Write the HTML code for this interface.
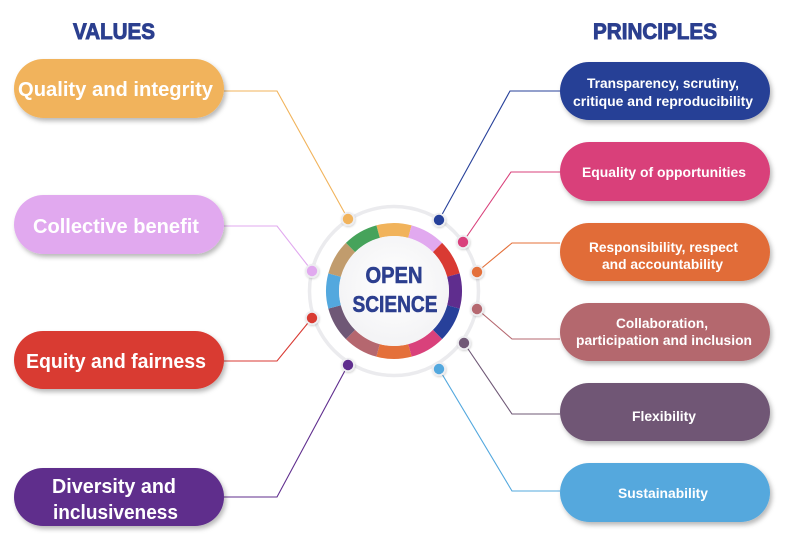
<!DOCTYPE html>
<html><head><meta charset="utf-8"><style>
html,body{margin:0;padding:0;background:#fff;}
svg{display:block;}
text{font-family:"Liberation Sans",sans-serif;font-weight:bold;}
</style></head><body>
<svg width="800" height="551" viewBox="0 0 800 551" xmlns="http://www.w3.org/2000/svg">
<defs>
<filter id="sh" x="-10%" y="-20%" width="125%" height="160%">
<feDropShadow dx="2" dy="3" stdDeviation="2.5" flood-color="#000" flood-opacity="0.28"/>
</filter>
<filter id="ds" x="-50%" y="-50%" width="200%" height="200%">
<feDropShadow dx="0.5" dy="1" stdDeviation="1" flood-color="#000" flood-opacity="0.18"/>
</filter>
<radialGradient id="cg" cx="50%" cy="45%" r="55%">
<stop offset="0" stop-color="#ffffff"/><stop offset="1" stop-color="#f3f3f5"/>
</radialGradient>
</defs>

<!-- titles -->
<text x="114" y="39" fill="#2b3f8f" stroke="#2b3f8f" stroke-width="0.9" font-size="22" text-anchor="middle" textLength="82" lengthAdjust="spacingAndGlyphs">VALUES</text>
<text x="655" y="39" fill="#2b3f8f" stroke="#2b3f8f" stroke-width="0.9" font-size="22" text-anchor="middle" textLength="124" lengthAdjust="spacingAndGlyphs">PRINCIPLES</text>

<!-- connectors -->
<g fill="none" stroke-width="1.1">
<polyline points="224,91 277,91 348,219" stroke="#f1b35b"/>
<polyline points="224,226 277,226 312,271" stroke="#e1a9ef"/>
<polyline points="224,361 277,361 312,318" stroke="#d93a33"/>
<polyline points="224,497 277,497 348,365" stroke="#5f2d8e"/>
<polyline points="560,91 510,91 439,220" stroke="#27409a"/>
<polyline points="560,172 511,172 463,242" stroke="#d9417b"/>
<polyline points="560,243 512,243 477,272" stroke="#e4703a"/>
<polyline points="560,339 512,339 477,309" stroke="#b5676f"/>
<polyline points="560,414 512,414 464,343" stroke="#6f5876"/>
<polyline points="560,491 512,491 439,369" stroke="#53a8de"/>
</g>

<!-- center -->
<circle cx="394" cy="291" r="84.5" fill="#fff" stroke="#ebebee" stroke-width="3.5"/>
<g fill="none" stroke-width="13">
<path d="M378.08,231.60 A61.5,61.5 0 0 1 409.92,231.60" stroke="#f1b35b"/>
<path d="M409.92,231.60 A61.5,61.5 0 0 1 437.49,247.51" stroke="#e1a9ef"/>
<path d="M437.49,247.51 A61.5,61.5 0 0 1 453.40,275.08" stroke="#d93a33"/>
<path d="M453.40,275.08 A61.5,61.5 0 0 1 453.40,306.92" stroke="#5f2d8e"/>
<path d="M453.40,306.92 A61.5,61.5 0 0 1 437.49,334.49" stroke="#27409a"/>
<path d="M437.49,334.49 A61.5,61.5 0 0 1 409.92,350.40" stroke="#d9417b"/>
<path d="M409.92,350.40 A61.5,61.5 0 0 1 378.08,350.40" stroke="#e4703a"/>
<path d="M378.08,350.40 A61.5,61.5 0 0 1 350.51,334.49" stroke="#b5676f"/>
<path d="M350.51,334.49 A61.5,61.5 0 0 1 334.60,306.92" stroke="#6f5876"/>
<path d="M334.60,306.92 A61.5,61.5 0 0 1 334.60,275.08" stroke="#53a8de"/>
<path d="M334.60,275.08 A61.5,61.5 0 0 1 350.51,247.51" stroke="#c19c6d"/>
<path d="M350.51,247.51 A61.5,61.5 0 0 1 378.08,231.60" stroke="#46a35b"/>
</g>
<circle cx="394" cy="291" r="55" fill="url(#cg)"/>
<text x="394" y="283" fill="#2c3f8f" stroke="#2c3f8f" stroke-width="0.6" font-size="23" text-anchor="middle" textLength="57" lengthAdjust="spacingAndGlyphs">OPEN</text>
<text x="395" y="312" fill="#2c3f8f" stroke="#2c3f8f" stroke-width="0.6" font-size="23" text-anchor="middle" textLength="85" lengthAdjust="spacingAndGlyphs">SCIENCE</text>

<!-- dots -->
<g filter="url(#ds)">
<circle cx="348" cy="219" r="7" fill="#ededf0"/><circle cx="348" cy="219" r="5.2" fill="#f1b35b"/>
<circle cx="439" cy="220" r="7" fill="#ededf0"/><circle cx="439" cy="220" r="5.2" fill="#27409a"/>
<circle cx="463" cy="242" r="7" fill="#ededf0"/><circle cx="463" cy="242" r="5.2" fill="#d9417b"/>
<circle cx="312" cy="271" r="7" fill="#ededf0"/><circle cx="312" cy="271" r="5.2" fill="#e1a9ef"/>
<circle cx="477" cy="272" r="7" fill="#ededf0"/><circle cx="477" cy="272" r="5.2" fill="#e4703a"/>
<circle cx="477" cy="309" r="7" fill="#ededf0"/><circle cx="477" cy="309" r="5.2" fill="#b5676f"/>
<circle cx="312" cy="318" r="7" fill="#ededf0"/><circle cx="312" cy="318" r="5.2" fill="#d93a33"/>
<circle cx="464" cy="343" r="7" fill="#ededf0"/><circle cx="464" cy="343" r="5.2" fill="#6f5876"/>
<circle cx="348" cy="365" r="7" fill="#ededf0"/><circle cx="348" cy="365" r="5.2" fill="#5f2d8e"/>
<circle cx="439" cy="369" r="7" fill="#ededf0"/><circle cx="439" cy="369" r="5.2" fill="#53a8de"/>
</g>

<!-- pills -->
<g filter="url(#sh)">
<rect x="14" y="59" width="210" height="59" rx="29.5" fill="#f1b35b"/>
<rect x="14" y="195" width="210" height="59" rx="29.5" fill="#e1a9ef"/>
<rect x="14" y="331" width="210" height="58" rx="29" fill="#d93a33"/>
<rect x="14" y="468" width="210" height="58" rx="29" fill="#5f2f8c"/>
<rect x="560" y="62" width="210" height="58" rx="29" fill="#283f96"/>
<rect x="560" y="142" width="210" height="59" rx="29.5" fill="#d9417a"/>
<rect x="560" y="223" width="210" height="58" rx="29" fill="#e16c38"/>
<rect x="560" y="303" width="210" height="58" rx="29" fill="#b4676e"/>
<rect x="560" y="383" width="210" height="58" rx="29" fill="#6f5775"/>
<rect x="560" y="463" width="210" height="59" rx="29.5" fill="#54a8dd"/>
</g>

<g fill="#fff">
<text x="18" y="96" font-size="20" textLength="195" lengthAdjust="spacingAndGlyphs">Quality and integrity</text>
<text x="33" y="233" font-size="20" textLength="166" lengthAdjust="spacingAndGlyphs">Collective benefit</text>
<text x="26" y="368" font-size="20" textLength="180" lengthAdjust="spacingAndGlyphs">Equity and fairness</text>
<text x="52" y="493" font-size="20" textLength="124" lengthAdjust="spacingAndGlyphs">Diversity and</text>
<text x="53" y="519" font-size="20" textLength="125" lengthAdjust="spacingAndGlyphs">inclusiveness</text>

<text x="587" y="88" font-size="13.5" textLength="152" lengthAdjust="spacingAndGlyphs">Transparency, scrutiny,</text>
<text x="573" y="106" font-size="13.5" textLength="180" lengthAdjust="spacingAndGlyphs">critique and reproducibility</text>
<text x="582" y="177" font-size="13.5" textLength="164" lengthAdjust="spacingAndGlyphs">Equality of opportunities</text>
<text x="589" y="252" font-size="13.5" textLength="149" lengthAdjust="spacingAndGlyphs">Responsibility, respect</text>
<text x="602" y="269" font-size="13.5" textLength="121" lengthAdjust="spacingAndGlyphs">and accountability</text>
<text x="616" y="328" font-size="13.5" textLength="92" lengthAdjust="spacingAndGlyphs">Collaboration,</text>
<text x="576" y="345" font-size="13.5" textLength="176" lengthAdjust="spacingAndGlyphs">participation and inclusion</text>
<text x="632" y="421" font-size="13.5" textLength="64" lengthAdjust="spacingAndGlyphs">Flexibility</text>
<text x="618" y="498" font-size="13.5" textLength="90" lengthAdjust="spacingAndGlyphs">Sustainability</text>
</g>
</svg>
</body></html>
